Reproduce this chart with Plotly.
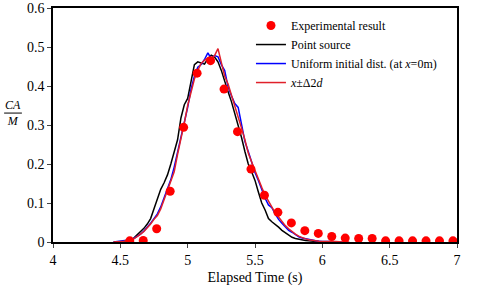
import plotly.graph_objects as go

# Experimental result
exp_t = [4.57, 4.67, 4.77, 4.87, 4.97, 5.07, 5.17, 5.27, 5.37, 5.47, 5.57, 5.67, 5.77,
         5.87, 5.97, 6.07, 6.17, 6.27, 6.37, 6.47, 6.57, 6.67, 6.77, 6.87, 6.97]
exp_v = [0.003, 0.004, 0.034, 0.130, 0.294, 0.433, 0.465, 0.392, 0.283, 0.187, 0.120, 0.076, 0.049,
         0.029, 0.022, 0.014, 0.010, 0.009, 0.009, 0.003, 0.003, 0.003, 0.003, 0.003, 0.003]

# Point source
ps_t = [4.450, 4.475, 4.500, 4.525, 4.550, 4.575, 4.600, 4.625, 4.650, 4.675, 4.700, 4.725,
        4.750, 4.775, 4.800, 4.825, 4.850, 4.875, 4.900, 4.925, 4.950, 4.975, 5.000, 5.025,
        5.050, 5.075, 5.100, 5.125, 5.150, 5.175, 5.200, 5.225, 5.250, 5.275, 5.300, 5.325,
        5.350, 5.375, 5.400, 5.425, 5.450, 5.475, 5.500, 5.525, 5.550, 5.575, 5.600, 5.625,
        5.650, 5.675, 5.700, 5.725, 5.750, 5.775, 5.800, 5.825, 5.850, 5.875, 5.900, 5.925,
        5.950, 5.975, 6.000]
ps_v = [0, 0, 0, 0.002, 0.004, 0.006, 0.010, 0.018, 0.027, 0.035, 0.046, 0.060,
        0.085, 0.110, 0.135, 0.152, 0.172, 0.200, 0.228, 0.262, 0.318, 0.352, 0.368, 0.410,
        0.455, 0.462, 0.458, 0.456, 0.470, 0.479, 0.474, 0.462, 0.440, 0.410, 0.385, 0.360,
        0.330, 0.300, 0.268, 0.232, 0.200, 0.180, 0.158, 0.128, 0.100, 0.082, 0.060, 0.052,
        0.046, 0.038, 0.030, 0.024, 0.016, 0.012, 0.009, 0.007, 0.005, 0.004, 0.003, 0.002,
        0.001, 0.0, 0.0]

# Uniform initial dist. (at x=0m)
un_t = [4.450, 4.475, 4.500, 4.525, 4.550, 4.575, 4.600, 4.625, 4.650, 4.675, 4.700, 4.725,
        4.750, 4.775, 4.800, 4.825, 4.850, 4.875, 4.900, 4.925, 4.950, 4.975, 5.000, 5.025,
        5.050, 5.075, 5.100, 5.125, 5.150, 5.175, 5.200, 5.225, 5.250, 5.275, 5.300, 5.325,
        5.350, 5.375, 5.400, 5.425, 5.450, 5.475, 5.500, 5.525, 5.550, 5.575, 5.600, 5.625,
        5.650, 5.675, 5.700, 5.725, 5.750, 5.775, 5.800, 5.825, 5.850, 5.875, 5.900, 5.925,
        5.950, 5.975, 6.000, 6.050, 6.100, 6.150]
un_v = [0, 0.001, 0.002, 0.003, 0.004, 0.006, 0.009, 0.014, 0.020, 0.028, 0.037, 0.048,
        0.060, 0.072, 0.090, 0.112, 0.135, 0.160, 0.192, 0.230, 0.270, 0.302, 0.345, 0.392,
        0.425, 0.448, 0.455, 0.468, 0.485, 0.470, 0.478, 0.475, 0.455, 0.440, 0.398, 0.375,
        0.355, 0.345, 0.300, 0.258, 0.232, 0.205, 0.178, 0.158, 0.135, 0.112, 0.095, 0.088,
        0.072, 0.058, 0.048, 0.038, 0.030, 0.025, 0.018, 0.013, 0.010, 0.008, 0.006, 0.004,
        0.003, 0.002, 0.001, 0.001, 0.0, 0.0]

# x ± Δ2d
dd_t = [4.450, 4.475, 4.500, 4.525, 4.550, 4.575, 4.600, 4.625, 4.650, 4.675, 4.700, 4.725,
        4.750, 4.775, 4.800, 4.825, 4.850, 4.875, 4.900, 4.925, 4.950, 4.975, 5.000, 5.025,
        5.050, 5.075, 5.100, 5.125, 5.150, 5.175, 5.200, 5.225, 5.250, 5.275, 5.300, 5.325,
        5.350, 5.375, 5.400, 5.425, 5.450, 5.475, 5.500, 5.525, 5.550, 5.575, 5.600, 5.625,
        5.650, 5.675, 5.700, 5.725, 5.750, 5.775, 5.800, 5.825, 5.850, 5.875, 5.900, 5.925,
        5.950, 5.975, 6.000, 6.050, 6.100, 6.150, 6.200]
dd_v = [0, 0, 0.001, 0.002, 0.003, 0.005, 0.008, 0.013, 0.020, 0.027, 0.036, 0.046,
        0.058, 0.068, 0.085, 0.108, 0.130, 0.155, 0.180, 0.225, 0.262, 0.305, 0.350, 0.385,
        0.418, 0.440, 0.458, 0.466, 0.472, 0.468, 0.478, 0.496, 0.462, 0.425, 0.405, 0.378,
        0.350, 0.322, 0.292, 0.262, 0.228, 0.205, 0.182, 0.162, 0.140, 0.120, 0.104, 0.088,
        0.075, 0.064, 0.052, 0.042, 0.034, 0.026, 0.020, 0.015, 0.011, 0.008, 0.006, 0.004,
        0.003, 0.002, 0.002, 0.001, 0.001, 0.0, 0.0]

x_ticks = [4, 4.5, 5, 5.5, 6, 6.5, 7]
y_ticks = [0, 0.1, 0.2, 0.3, 0.4, 0.5, 0.6]

FONT = "Times New Roman, Liberation Serif, serif"

fig = go.Figure()
fig.add_trace(go.Scatter(x=ps_t, y=ps_v, mode="lines", name="Point source",
                         line=dict(color="black", width=1.5), legendrank=2))
fig.add_trace(go.Scatter(x=un_t, y=un_v, mode="lines", name="Uniform initial dist. (at <i>x</i>=0m)",
                         line=dict(color="#0000ff", width=1.5), legendrank=3))
fig.add_trace(go.Scatter(x=dd_t, y=dd_v, mode="lines", name="<i>x</i>±Δ2<i>d</i>",
                         line=dict(color="#e0202a", width=1.5), legendrank=4))
fig.add_trace(go.Scatter(x=exp_t, y=exp_v, mode="markers", name="Experimental result",
                         marker=dict(color="#ff0000", size=9), legendrank=1))

fig.update_layout(
    width=480, height=288,
    margin=dict(l=53, r=23, t=8, b=46, autoexpand=False),
    paper_bgcolor="white", plot_bgcolor="white",
    font=dict(family=FONT, size=14, color="black"),
    showlegend=True,
    legend=dict(x=0.49, y=0.987, xanchor="left", yanchor="top",
                bgcolor="rgba(0,0,0,0)", font=dict(family=FONT, size=12),
                tracegroupgap=0, itemwidth=30),
    xaxis=dict(range=[4, 7], tickvals=x_ticks, ticks="outside", ticklen=4,
               showline=True, linecolor="black", linewidth=1.5, mirror=True,
               showgrid=False, zeroline=False, tickfont=dict(family=FONT, size=14),
               automargin=False,
               title=dict(text="Elapsed Time (s)", font=dict(family=FONT, size=14), standoff=6)),
    yaxis=dict(range=[0, 0.6], tickvals=y_ticks, ticks="outside", ticklen=4,
               showline=True, linecolor="black", linewidth=1.5, mirror=True,
               showgrid=False, zeroline=False, tickfont=dict(family=FONT, size=14),
               automargin=False),
)

fig.add_annotation(text="<i>CA</i><br><i>M</i>", xref="paper", yref="paper", x=-0.100, y=0.551,
                   showarrow=False, xanchor="center", yanchor="middle",
                   font=dict(family=FONT, size=12))
fig.add_shape(type="line", xref="paper", yref="paper", x0=-0.121, x1=-0.077,
              y0=0.551, y1=0.551, line=dict(color="black", width=1))

fig.write_html("out.html")
